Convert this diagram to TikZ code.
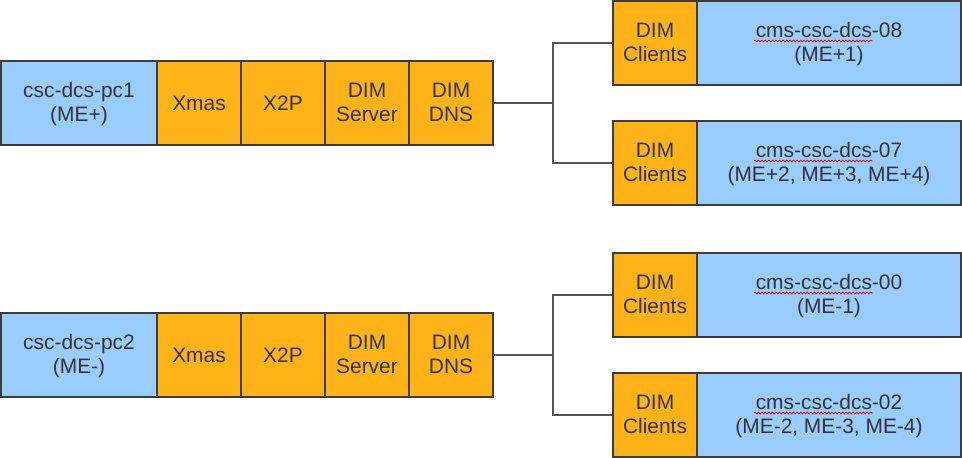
\documentclass[tikz,border=0pt]{standalone}
\usepackage{fontspec}
\setmainfont{Liberation Sans}
\usetikzlibrary{decorations.pathmorphing}
\definecolor{bblue}{HTML}{99CCFF}
\definecolor{borange}{HTML}{FFB317}
\definecolor{edgec}{HTML}{3C3C3C}
\definecolor{connc}{HTML}{555555}
\definecolor{txt}{HTML}{333333}
\newcommand{\mytopst}{\rule{0pt}{19.6bp}}
\newcommand{\mybotst}{\rule[-6bp]{0pt}{6bp}}
\begin{document}
\begin{tikzpicture}[x=1bp,y=-1bp,
 box/.style={draw=edgec, line width=1.2bp, inner sep=0pt, minimum height=84bp, text=txt, align=center, font=\fontsize{21}{24}\selectfont},
 bluebox/.style={box, fill=bblue},
 orangebox/.style={box, fill=borange, minimum width=84bp},
 conn/.style={draw=connc, line width=1.5bp},
 squig/.style={draw=red!85!black, line width=0.7bp, decorate, decoration={snake, amplitude=0.9bp, segment length=3.5bp}}]
\useasboundingbox (0,0) rectangle (962,458);
% top left row
\node[bluebox, minimum width=156bp] (pc1) at (79,103) {\mytopst csc-dcs-pc1\\(ME+)\mybotst};
\node[orangebox] (xmas1) at (199,103) {Xmas};
\node[orangebox] (xtp1) at (283,103) {X2P};
\node[orangebox] (srv1) at (367,103) {\mytopst DIM\\Server\mybotst};
\node[orangebox] (dns1) at (451,103) {\mytopst DIM\\DNS\mybotst};
% top right
\node[orangebox] (cl1) at (655,43) {\mytopst DIM\\Clients\mybotst};
\node[bluebox, minimum width=264bp] (h1) at (829,43) {\mytopst cms-csc-dcs-08\\(ME+1)\mybotst};
\node[orangebox] (cl2) at (655,163) {\mytopst DIM\\Clients\mybotst};
\node[bluebox, minimum width=264bp] (h2) at (829,163) {\mytopst cms-csc-dcs-07\\(ME+2, ME+3, ME+4)\mybotst};
% bottom left row
\node[bluebox, minimum width=156bp] (pc2) at (79,355) {\mytopst csc-dcs-pc2\\(ME-)\mybotst};
\node[orangebox] (xmas2) at (199,355) {Xmas};
\node[orangebox] (xtp2) at (283,355) {X2P};
\node[orangebox] (srv2) at (367,355) {\mytopst DIM\\Server\mybotst};
\node[orangebox] (dns2) at (451,355) {\mytopst DIM\\DNS\mybotst};
% bottom right
\node[orangebox] (cl3) at (655,295) {\mytopst DIM\\Clients\mybotst};
\node[bluebox, minimum width=264bp] (h3) at (829,295) {\mytopst cms-csc-dcs-00\\(ME-1)\mybotst};
\node[orangebox] (cl4) at (655,415) {\mytopst DIM\\Clients\mybotst};
\node[bluebox, minimum width=264bp] (h4) at (829,415) {\mytopst cms-csc-dcs-02\\(ME-2, ME-3, ME-4)\mybotst};
% connectors
\coordinate (j1) at (553,103);
\coordinate (j2) at (553,355);
\draw[conn] (dns1.east) -- (j1);
\draw[conn] (cl1.west) -| (j1) |- (cl2.west);
\draw[conn] (dns2.east) -- (j2);
\draw[conn] (cl3.west) -| (j2) |- (cl4.west);
% spell-check squiggles
\draw[squig] (754,41) -- (873,41);
\draw[squig] (754,161) -- (873,161);
\draw[squig] (754,293) -- (873,293);
\draw[squig] (754,413) -- (873,413);
\end{tikzpicture}
\end{document}
